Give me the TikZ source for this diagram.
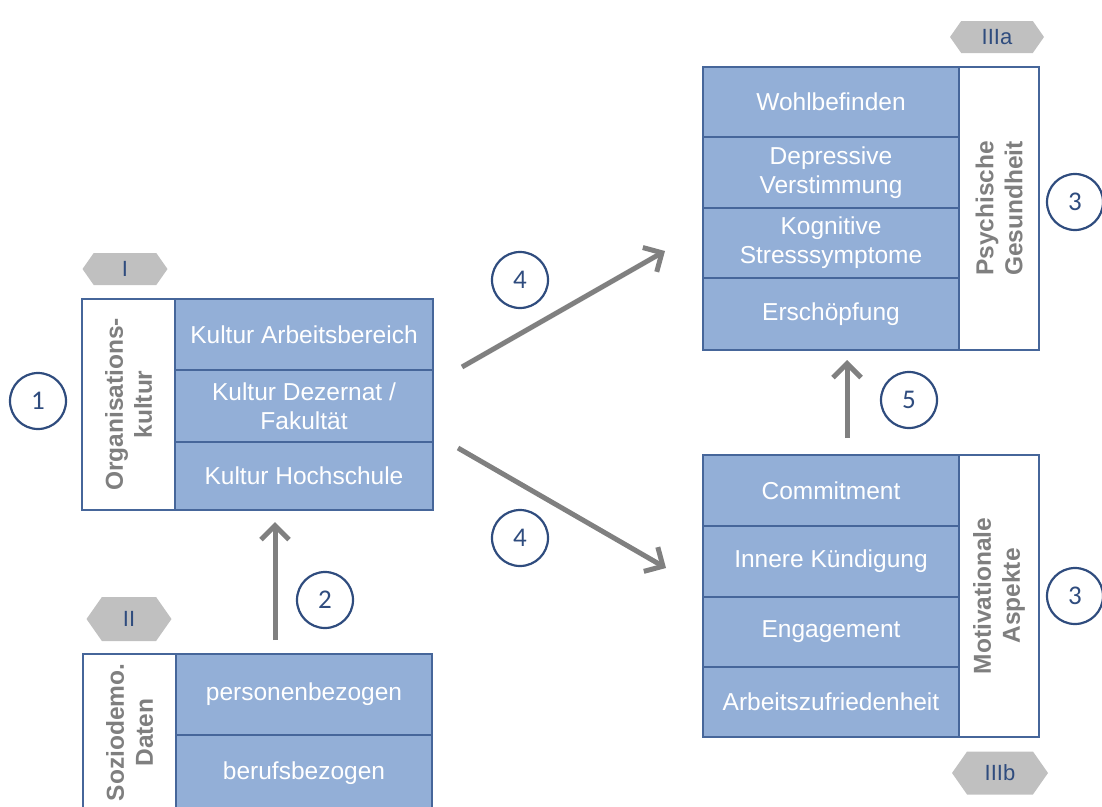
\documentclass[tikz,border=0pt]{standalone}
\usepackage{fontspec}
\setmainfont{Liberation Sans}
\newfontfamily\numfont{Carlito}
\usetikzlibrary{arrows.meta,shapes.symbols}

\definecolor{cellblue}{HTML}{93AFD7}
\definecolor{edgeblue}{HTML}{46669A}
\definecolor{labelgray}{HTML}{7F7F7F}
\definecolor{arrowgray}{HTML}{808080}
\definecolor{hexgray}{HTML}{C0C0C0}
\definecolor{navy}{HTML}{2F4C7E}

\tikzset{
  cell/.style={draw=edgeblue, fill=cellblue, line width=2.2pt, anchor=north west,
    inner sep=0pt, outer sep=0pt, text=white, align=center,
    font=\fontsize{24.5pt}{29pt}\selectfont},
  side/.style={draw=edgeblue, fill=white, line width=2.2pt, anchor=north west,
    inner sep=0pt, outer sep=0pt},
  sidetext/.style={rotate=90, text=labelgray, align=center, inner sep=0pt,
    font=\bfseries\fontsize{24.5pt}{29pt}\selectfont},
  num/.style={circle, draw=navy, fill=white, line width=2.2pt, minimum size=56pt,
    inner sep=0pt, text=navy, font=\numfont\fontsize{27pt}{27pt}\selectfont},
  tag/.style={signal, signal to=west and east, signal pointer angle=110,
    fill=hexgray, inner sep=0pt, text=navy, font=\fontsize{22pt}{22pt}\selectfont},
  flow/.style={draw=arrowgray, line width=5pt,
    -{Straight Barb[length=14pt,width=28pt]}},
}

\begin{document}
\begin{tikzpicture}[x=1pt, y=-1pt]
\useasboundingbox (0,0) rectangle (1102,806);
\clip (0,0) rectangle (1102,806);

% --- Organisationskultur
\node[side, minimum width=93pt, minimum height=211pt] (oc) at (82,299) {};
\node[sidetext] (oct) at (oc.center) {Organisations-\\kultur};
\node[cell, minimum width=258pt, minimum height=71pt] (k1) at (175,299) {Kultur Arbeitsbereich};
\node[cell, minimum width=258pt, minimum height=72pt] (k2) at (175,370) {Kultur Dezernat /\\Fakultät};
\node[cell, minimum width=258pt, minimum height=68pt] (k3) at (175,442) {Kultur Hochschule};

% --- Soziodemographische Daten
\node[side, minimum width=93pt, minimum height=157pt] (sc) at (83,654) {};
\node[sidetext] (sct) at (sc.center) {Soziodemo.\\Daten};
\node[cell, minimum width=256pt, minimum height=81pt] (s1) at (176,654) {personenbezogen};
\node[cell, minimum width=256pt, minimum height=76pt] (s2) at (176,735) {berufsbezogen};

% --- Psychische Gesundheit
\node[cell, minimum width=256pt, minimum height=70pt] (p1) at (703,67) {Wohlbefinden};
\node[cell, minimum width=256pt, minimum height=71pt] (p2) at (703,137) {Depressive\\Verstimmung};
\node[cell, minimum width=256pt, minimum height=70pt] (p3) at (703,208) {Kognitive\\Stresssymptome};
\node[cell, minimum width=256pt, minimum height=72pt] (p4) at (703,278) {Erschöpfung};
\node[side, minimum width=80pt, minimum height=283pt] (pc) at (959,67) {};
\node[sidetext] (pct) at (pc.center) {Psychische\\Gesundheit};

% --- Motivationale Aspekte
\node[cell, minimum width=256pt, minimum height=71pt] (m1) at (703,455) {Commitment};
\node[cell, minimum width=256pt, minimum height=71pt] (m2) at (703,526) {Innere Kündigung};
\node[cell, minimum width=256pt, minimum height=70pt] (m3) at (703,597) {Engagement};
\node[cell, minimum width=256pt, minimum height=70pt] (m4) at (703,667) {Arbeitszufriedenheit};
\node[side, minimum width=80pt, minimum height=282pt] (mc) at (959,455) {};
\node[sidetext] (mct) at (mc.center) {Motivationale\\Aspekte};

% --- Tags
\node[tag, minimum width=85pt, minimum height=32pt] (tI) at (125,269) {I};
\node[tag, minimum width=85pt, minimum height=44pt] (tII) at (129,619) {II};
\node[tag, minimum width=94pt, minimum height=32pt] (tIIIa) at (997,37) {IIIa};
\node[tag, minimum width=96pt, minimum height=43pt] (tIIIb) at (1000,773) {IIIb};

% --- Connectors
\coordinate (u0) at (462,367);
\coordinate (u1) at (665,251);
\coordinate (l0) at (458,448);
\coordinate (l1) at (666,568);
\draw[flow] (u0) -- (u1);
\draw[flow] (l0) -- (l1);
\draw[flow, shorten <=14pt, shorten >=12pt] (275,0 |- s1.north) -- (275,0 |- k3.south);
\draw[flow, shorten <=17pt, shorten >=10pt] (847,0 |- m1.north) -- (847,0 |- p4.south);

% --- Numbered markers
\node[num] (n1) at (38,401) {1};
\node[num] (n2) at (325,600) {2};
\node[num] (n3a) at (1075,202) {3};
\node[num] (n3b) at (1075,596) {3};
\node[num] (n4a) at (520,280) {4};
\node[num] (n4b) at (520,538) {4};
\node[num] (n5) at (909,400) {5};
\end{tikzpicture}
\end{document}
